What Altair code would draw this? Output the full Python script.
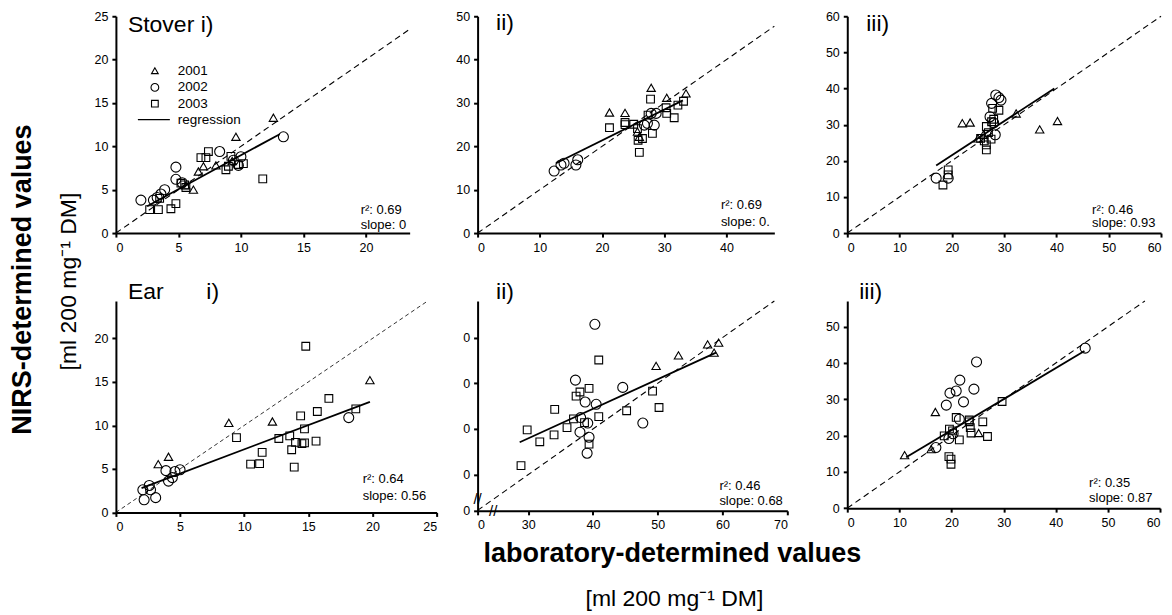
import altair as alt
import pandas as pd

FONT = "Liberation Sans"
years = ["2001", "2002", "2003"]
shape_of = {"2001": "triangle-up", "2002": "circle", "2003": "square"}
size_of = {"2001": 70, "2002": 100, "2003": 60}

# ---------------- Stover i) ----------------
s1_x_2001 = [12.6, 9.6, 8.0, 7.0, 6.6, 6.2, 5.6, 9.3]
s1_y_2001 = [13.3, 11.1, 7.8, 7.7, 7.1, 5.0, 5.5, 8.3]
s1_x_2002 = [13.4, 8.3, 4.8, 4.8, 3.9, 3.6, 2.0, 3.0, 10.0, 9.8, 9.4, 5.3, 3.3]
s1_y_2002 = [11.1, 9.4, 7.6, 6.2, 5.0, 4.5, 3.8, 3.8, 8.8, 7.8, 8.4, 5.8, 4.1]
s1_x_2003 = [11.75, 7.4, 6.8, 7.2, 8.8, 9.2, 10.2, 9.8, 4.8, 4.4, 2.7, 3.4, 3.5, 5.2, 5.5, 5.6, 9.0]
s1_y_2003 = [6.25, 9.4, 8.7, 8.7, 7.3, 8.85, 8.0, 7.9, 3.4, 2.8, 2.7, 2.7, 4.0, 5.75, 5.55, 5.25, 7.7]
s1_reg_x = [2.5, 13.1]
s1_reg_y = [3.1, 11.4]

# ---------------- Stover ii) ----------------
s2_x_2001 = [27.9, 30.4, 33.5, 21.2, 23.7, 25.7, 26.0]
s2_y_2001 = [33.5, 31.2, 32.2, 27.8, 27.7, 23.4, 22.2]
s2_x_2002 = [12.3, 13.4, 13.9, 15.8, 16.1, 28.4, 27.9, 28.7, 26.8, 27.3]
s2_y_2002 = [14.3, 15.7, 16.1, 15.7, 16.9, 24.9, 27.6, 27.6, 24.9, 25.3]
s2_x_2003 = [27.8, 21.2, 23.7, 23.7, 25.1, 26.0, 25.8, 26.5, 28.1, 30.3, 30.4, 31.6, 32.2, 33.1, 25.7, 27.4]
s2_y_2003 = [30.9, 24.3, 25.5, 25.0, 25.1, 18.6, 21.4, 21.8, 23.0, 28.9, 27.6, 26.6, 29.5, 30.4, 24.1, 27.2]
s2_reg_x = [12.6, 33.0]
s2_reg_y = [16.1, 30.6]

# ---------------- Stover iii) ----------------
s3_x_2001 = [22.0, 23.5, 36.8, 40.2, 32.3, 25.0, 26.0]
s3_y_2001 = [30.4, 30.6, 28.7, 31.0, 33.1, 26.2, 27.2]
s3_x_2002 = [28.4, 29.4, 27.6, 27.3, 28.3, 17.0, 19.3, 28.0, 29.0]
s3_y_2002 = [38.2, 36.8, 35.9, 32.2, 27.2, 15.2, 15.2, 30.5, 37.5]
s3_x_2003 = [18.3, 19.3, 19.3, 26.6, 26.6, 27.6, 25.5, 26.6, 27.0, 28.0, 27.8, 29.0, 26.2, 27.5]
s3_y_2003 = [13.3, 17.5, 16.1, 23.0, 24.4, 30.8, 26.2, 29.5, 27.8, 31.5, 34.5, 34.0, 25.5, 26.0]
s3_reg_x = [17.0, 39.6]
s3_reg_y = [18.7, 40.0]

# ---------------- Ear i) ----------------
e1_x_2001 = [19.8, 8.8, 12.2, 3.3, 4.1]
e1_y_2001 = [15.2, 10.3, 10.45, 5.55, 6.4]
e1_x_2002 = [18.15, 3.9, 5.0, 4.6, 4.4, 4.1, 2.6, 2.7, 2.1, 3.1, 2.2]
e1_y_2002 = [10.9, 4.8, 4.9, 4.7, 4.0, 3.6, 3.1, 2.6, 2.6, 1.7, 1.45]
e1_x_2003 = [14.8, 16.6, 15.7, 14.4, 14.7, 18.7, 15.6, 9.4, 12.7, 13.55, 11.4, 10.5, 11.2, 13.7, 13.9, 14.0, 14.5, 14.7]
e1_y_2003 = [19.1, 13.1, 11.6, 11.1, 9.6, 11.9, 8.2, 8.6, 8.5, 8.8, 6.9, 5.55, 5.6, 7.2, 5.2, 8.05, 7.9, 8.0]
e1_reg_x = [2.0, 19.8]
e1_reg_y = [2.8, 12.7]

# ---------------- Ear ii) ----------------
e2_x_2001 = [49.75, 53.2, 57.7, 59.4, 58.7]
e2_y_2001 = [53.8, 56.1, 58.5, 58.9, 56.7]
e2_x_2002 = [40.3, 37.3, 44.6, 38.8, 40.5, 47.7, 38.1, 39.2, 38.0, 39.4, 39.1]
e2_y_2002 = [62.9, 50.7, 49.1, 45.9, 45.4, 41.3, 42.5, 41.3, 39.3, 38.2, 34.7]
e2_x_2003 = [40.9, 39.4, 38.0, 37.4, 49.2, 50.2, 45.2, 40.9, 34.1, 37.0, 36.0, 34.0, 31.8, 29.85, 28.9, 39.4, 38.7]
e2_y_2003 = [55.1, 48.9, 48.1, 47.2, 48.3, 44.7, 44.0, 42.7, 44.3, 42.2, 40.3, 38.7, 37.2, 39.8, 32.0, 36.7, 41.4]
e2_reg_x = [28.7, 59.0]
e2_reg_y = [37.1, 56.7]
e2_break_x = [24.6, 22.2]
e2_break_y = [22.1, 24.7]

# ---------------- Ear iii) ----------------
e3_x_2001 = [16.9, 25.2, 16.1, 11.0]
e3_y_2001 = [26.5, 20.7, 16.25, 14.6]
e3_x_2002 = [24.8, 21.6, 24.3, 20.9, 19.7, 22.3, 19.0, 21.5, 19.5, 17.0, 45.65, 20.3]
e3_y_2002 = [40.3, 35.3, 32.8, 32.3, 31.7, 29.3, 28.4, 24.5, 19.2, 16.7, 44.1, 20.5]
e3_x_2003 = [29.7, 20.9, 23.4, 26.0, 23.75, 26.9, 21.5, 20.2, 19.6, 18.6, 19.5, 19.9, 19.9, 23.4, 23.6]
e3_y_2003 = [29.4, 25.0, 24.3, 23.8, 20.7, 19.75, 18.8, 21.3, 21.8, 19.9, 14.2, 13.5, 12.1, 23.8, 22.2]
e3_reg_x = [11.3, 45.5]
e3_reg_y = [14.0, 43.3]

stats = {
    "s1": ("r²: 0.69", "slope: 0"),
    "s2": ("r²: 0.69", "slope: 0."),
    "s3": ("r²: 0.46", "slope: 0.93"),
    "e1": ("r²: 0.64", "slope: 0.56"),
    "e2": ("r²: 0.46", "slope: 0.68"),
    "e3": ("r²: 0.35", "slope: 0.87"),
}

y_title = "NIRS-determined values"
x_title = "laboratory-determined values"
unit_text = "[ml 200 mg\u207b\u00b9 DM]"
legend_line = "regression"


def label(text, x, y, size, weight="normal", align="left", angle=0):
    return alt.Chart(pd.DataFrame({"t": [text]})).mark_text(
        font=FONT, fontSize=size, fontWeight=weight, align=align,
        baseline="middle", angle=angle, color="black"
    ).encode(x=alt.value(x), y=alt.value(y), text="t:N")


def panel(data, reg, xdom, ydom, xticks, yticks, width, height, xrange,
          one2one_end, extra, dash=(6, 4), dash_w=1.1, xexpr=None, yexpr=None):
    xaxis = dict(values=xticks, title=None, grid=False)
    yaxis = dict(values=yticks, title=None, grid=False)
    if xexpr:
        xaxis["labelExpr"] = xexpr
    if yexpr:
        yaxis["labelExpr"] = yexpr
    ex = alt.X("x:Q", scale=alt.Scale(domain=xdom, range=[0, xrange], nice=False, zero=False),
               axis=alt.Axis(**xaxis))
    ey = alt.Y("y:Q", scale=alt.Scale(domain=ydom, nice=False, zero=False),
               axis=alt.Axis(**yaxis))
    one = alt.Chart(pd.DataFrame({"x": [xdom[0], one2one_end], "y": [xdom[0], one2one_end]})).mark_line(
        color="black", strokeWidth=dash_w, strokeDash=list(dash)).encode(x=ex, y=ey)
    regl = alt.Chart(pd.DataFrame({"x": reg[0], "y": reg[1]})).mark_line(
        color="black", strokeWidth=1.8).encode(x=ex, y=ey)
    layers = [one, regl]
    for yr, (xs, ys) in zip(years, data):
        layers.append(
            alt.Chart(pd.DataFrame({"x": xs, "y": ys})).mark_point(
                shape=shape_of[yr], size=size_of[yr], filled=False, color="black",
                strokeWidth=1.1, opacity=1).encode(x=ex, y=ey))
    layers += extra(ex, ey)
    return alt.layer(*layers).properties(width=width, height=height)


def stat_labels(key, x, y1, y2):
    a, b = stats[key]
    return [label(a, x, y1, 13), label(b, x, y2, 13)]


def p1_extra(ex, ey):
    out = [label("Stover i)", 12, 9, 23)]
    ly = [54.5, 71.2, 87.5]
    lsizes = {"2001": 45, "2002": 60, "2003": 45}
    for yr, yy in zip(years, ly):
        out.append(alt.Chart(pd.DataFrame({"t": [yr]})).mark_point(
            shape=shape_of[yr], size=lsizes[yr], filled=False, color="black",
            strokeWidth=1.1, opacity=1).encode(x=alt.value(39), y=alt.value(yy)))
        out.append(label(yr, 62, yy, 13.5))
    out.append(alt.Chart(pd.DataFrame({"t": [legend_line]})).mark_rule(
        color="black", strokeWidth=1.2).encode(x=alt.value(22), x2=alt.value(54), y=alt.value(103.5)))
    out.append(label(legend_line, 62, 103.5, 13.5))
    out += stat_labels("s1", 245, 193.5, 208.5)
    return out


def p2_extra(ex, ey):
    return [label("ii)", 18.5, 7, 23)] + stat_labels("s2", 243.5, 189, 205.5)


def p3_extra(ex, ey):
    return [label("iii)", 19, 7.5, 23)] + stat_labels("s3", 245, 193.5, 207)


def p4_extra(ex, ey):
    return [label("Ear", 12, -9.5, 23), label("i)", 90.5, -9.5, 23),
            label(y_title, -93, -21.5, 27, weight="bold", align="center", angle=270),
            label(unit_text, -47, -19.5, 23, align="center", angle=270)] + \
        stat_labels("e1", 247, 178.5, 195)


def p5_extra(ex, ey):
    brk = alt.Chart(pd.DataFrame({"x": e2_break_x, "y": e2_break_y})).mark_text(
        text="//", fontSize=15, font=FONT, color="black").encode(x=ex, y=ey)
    return [label("ii)", 18.5, -9.5, 23), brk,
            label(x_title, 195, 253.5, 27, weight="bold", align="center"),
            label(unit_text, 197, 298.5, 23, align="center")] + \
        stat_labels("e2", 242, 185, 200)


def p6_extra(ex, ey):
    return [label("iii)", 12, -9.5, 23)] + stat_labels("e3", 242, 182, 197)


p1 = panel([(s1_x_2001, s1_y_2001), (s1_x_2002, s1_y_2002), (s1_x_2003, s1_y_2003)],
           (s1_reg_x, s1_reg_y), [0, 23.5], [0, 25], [0, 5, 10, 15, 20], [0, 5, 10, 15, 20, 25],
           321, 217, 294, 23.5, p1_extra)
p2 = panel([(s2_x_2001, s2_y_2001), (s2_x_2002, s2_y_2002), (s2_x_2003, s2_y_2003)],
           (s2_reg_x, s2_reg_y), [0, 47.7], [0, 50], [0, 10, 20, 30, 40], [0, 10, 20, 30, 40, 50],
           322, 217, 297, 47.7, p2_extra)
p3 = panel([(s3_x_2001, s3_y_2001), (s3_x_2002, s3_y_2002), (s3_x_2003, s3_y_2003)],
           (s3_reg_x, s3_reg_y), [0, 60], [0, 60], [0, 10, 20, 30, 40, 50, 60],
           [0, 10, 20, 30, 40, 50, 60], 314, 217, 314, 60, p3_extra)
p4 = panel([(e1_x_2001, e1_y_2001), (e1_x_2002, e1_y_2002), (e1_x_2003, e1_y_2003)],
           (e1_reg_x, e1_reg_y), [0, 25], [0, 24.3], [0, 5, 10, 15, 20, 25], [0, 5, 10, 15, 20],
           321, 211.6, 321, 24.3, p4_extra, dash=(4, 3), dash_w=0.8)
p5 = panel([(e2_x_2001, e2_y_2001), (e2_x_2002, e2_y_2002), (e2_x_2003, e2_y_2003)],
           (e2_reg_x, e2_reg_y), [22.2, 70], [22.1, 68], [22.2, 30, 40, 50, 60, 70],
           [22.1, 30, 40, 50, 60], 329, 210, 310, 68, p5_extra,
           xexpr="datum.value < 25 ? '0' : datum.label", yexpr="'0'")
p6 = panel([(e3_x_2001, e3_y_2001), (e3_x_2002, e3_y_2002), (e3_x_2003, e3_y_2003)],
           (e3_reg_x, e3_reg_y), [0, 60], [0, 57.1], [0, 10, 20, 30, 40, 50, 60],
           [0, 10, 20, 30, 40, 50], 313, 207.3, 313, 57.1, p6_extra)

chart = alt.ConcatChart(
    concat=[p1, p2, p3, p4, p5, p6], columns=3, align="none", bounds="flush",
    spacing={"row": 68, "column": 41}
).properties(
    padding={"left": 0, "top": 2, "right": 0, "bottom": 0}
).configure_view(stroke=None).configure_axis(
    domainColor="black", domainWidth=2, tickColor="black", tickWidth=2, tickSize=4,
    labelFont=FONT, labelFontSize=12.5, labelColor="black", labelPadding=4
)

chart.save("out.html", embed_options={"renderer": "svg", "actions": False})
